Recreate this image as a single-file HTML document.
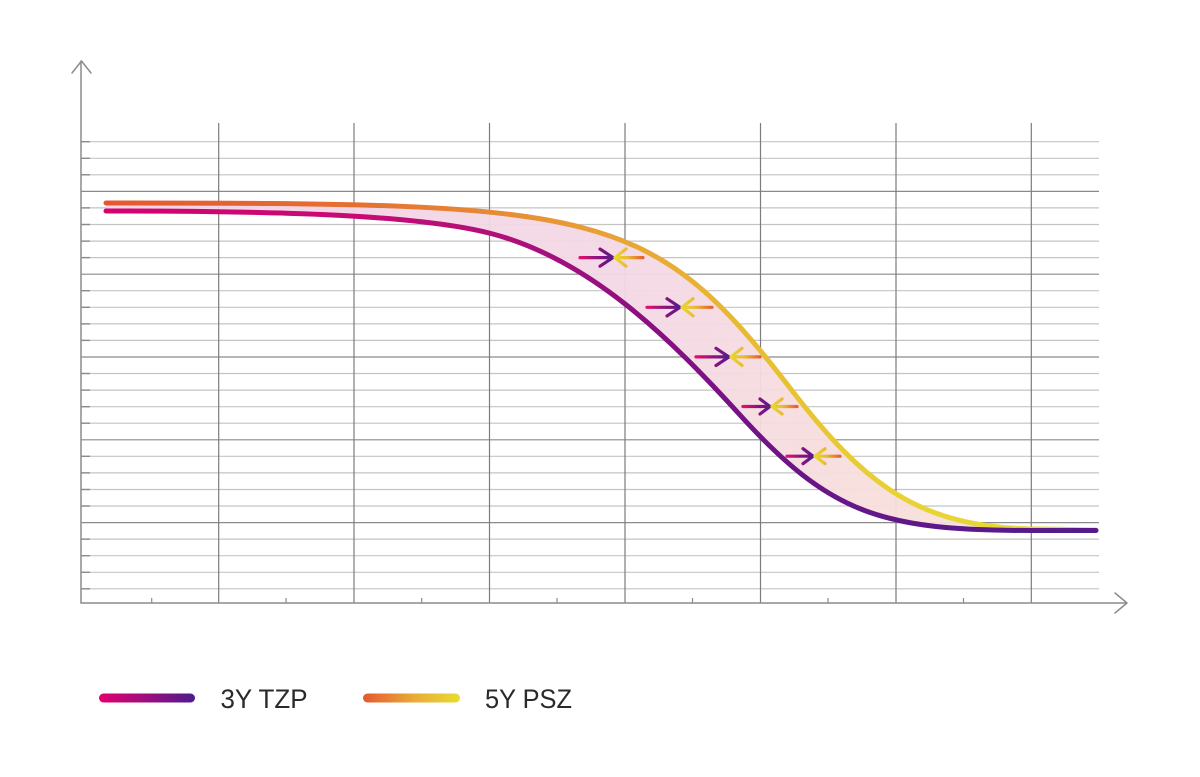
<!DOCTYPE html>
<html>
<head>
<meta charset="utf-8">
<style>
html,body{margin:0;padding:0;background:#fff;}
svg{display:block;}
</style>
</head>
<body>
<svg width="1200" height="777" viewBox="0 0 1200 777" xmlns="http://www.w3.org/2000/svg">
<defs>
  <linearGradient id="gTop" gradientUnits="userSpaceOnUse" x1="106" y1="0" x2="1096" y2="0">
    <stop offset="0" stop-color="#e4582f"/>
    <stop offset="0.25" stop-color="#e56f32"/>
    <stop offset="0.4" stop-color="#e78c36"/>
    <stop offset="0.52" stop-color="#e8a436"/>
    <stop offset="0.66" stop-color="#e8bd32"/>
    <stop offset="0.8" stop-color="#e8d234"/>
    <stop offset="0.92" stop-color="#e6d838"/>
    <stop offset="1" stop-color="#e6d838"/>
  </linearGradient>
  <linearGradient id="gBot" gradientUnits="userSpaceOnUse" x1="106" y1="0" x2="1096" y2="0">
    <stop offset="0" stop-color="#d6006f"/>
    <stop offset="0.25" stop-color="#c80a75"/>
    <stop offset="0.4" stop-color="#b0107a"/>
    <stop offset="0.53" stop-color="#8e0f80"/>
    <stop offset="0.66" stop-color="#701386"/>
    <stop offset="0.8" stop-color="#601889"/>
    <stop offset="1" stop-color="#561a8c"/>
  </linearGradient>
  <linearGradient id="gFill" gradientUnits="userSpaceOnUse" x1="350" y1="0" x2="1040" y2="0">
    <stop offset="0" stop-color="#f3d5e6"/>
    <stop offset="0.45" stop-color="#f4d9e4"/>
    <stop offset="1" stop-color="#fae3d6"/>
  </linearGradient>
  <linearGradient id="gPur" x1="0" y1="0" x2="1" y2="0">
    <stop offset="0" stop-color="#e0106e"/>
    <stop offset="0.55" stop-color="#8a127f"/>
    <stop offset="1" stop-color="#5a1a8a"/>
  </linearGradient>
  <linearGradient id="gYel" x1="0" y1="0" x2="1" y2="0">
    <stop offset="0" stop-color="#e8d830"/>
    <stop offset="0.45" stop-color="#e8b834"/>
    <stop offset="1" stop-color="#e5602f"/>
  </linearGradient>
  <linearGradient id="gLeg1" gradientUnits="userSpaceOnUse" x1="99" y1="0" x2="195" y2="0">
    <stop offset="0" stop-color="#e2006e"/>
    <stop offset="0.5" stop-color="#9a107e"/>
    <stop offset="1" stop-color="#4e1a8c"/>
  </linearGradient>
  <linearGradient id="gLeg2" gradientUnits="userSpaceOnUse" x1="363" y1="0" x2="460" y2="0">
    <stop offset="0" stop-color="#e4582f"/>
    <stop offset="0.5" stop-color="#e8a838"/>
    <stop offset="1" stop-color="#e8dc30"/>
  </linearGradient>
</defs>

<!-- horizontal grid -->
<g stroke="#c4c4c4" stroke-width="1.2" fill="none">
  <line x1="81" y1="141.7" x2="1099" y2="141.7"/>
  <line x1="81" y1="158.3" x2="1099" y2="158.3"/>
  <line x1="81" y1="174.8" x2="1099" y2="174.8"/>
  <line x1="81" y1="207.9" x2="1099" y2="207.9"/>
  <line x1="81" y1="224.5" x2="1099" y2="224.5"/>
  <line x1="81" y1="241.1" x2="1099" y2="241.1"/>
  <line x1="81" y1="257.6" x2="1099" y2="257.6"/>
  <line x1="81" y1="290.7" x2="1099" y2="290.7"/>
  <line x1="81" y1="307.3" x2="1099" y2="307.3"/>
  <line x1="81" y1="323.9" x2="1099" y2="323.9"/>
  <line x1="81" y1="340.4" x2="1099" y2="340.4"/>
  <line x1="81" y1="373.5" x2="1099" y2="373.5"/>
  <line x1="81" y1="390.1" x2="1099" y2="390.1"/>
  <line x1="81" y1="406.7" x2="1099" y2="406.7"/>
  <line x1="81" y1="423.2" x2="1099" y2="423.2"/>
  <line x1="81" y1="456.3" x2="1099" y2="456.3"/>
  <line x1="81" y1="472.9" x2="1099" y2="472.9"/>
  <line x1="81" y1="489.5" x2="1099" y2="489.5"/>
  <line x1="81" y1="506.0" x2="1099" y2="506.0"/>
  <line x1="81" y1="539.1" x2="1099" y2="539.1"/>
  <line x1="81" y1="555.7" x2="1099" y2="555.7"/>
  <line x1="81" y1="572.3" x2="1099" y2="572.3"/>
  <line x1="81" y1="588.8" x2="1099" y2="588.8"/>
</g>
<g stroke="#8a8a8a" stroke-width="1.2" fill="none">
  <line x1="81" y1="191.4" x2="1099" y2="191.4"/>
  <line x1="81" y1="274.2" x2="1099" y2="274.2"/>
  <line x1="81" y1="357.0" x2="1099" y2="357.0"/>
  <line x1="81" y1="439.8" x2="1099" y2="439.8"/>
  <line x1="81" y1="522.6" x2="1099" y2="522.6"/>
</g>
<!-- y-axis ticks -->
<g stroke="#8a8a8a" stroke-width="1.4">
  <line x1="81" y1="141.7" x2="90" y2="141.7"/>
  <line x1="81" y1="158.3" x2="90" y2="158.3"/>
  <line x1="81" y1="174.8" x2="90" y2="174.8"/>
  <line x1="81" y1="207.9" x2="90" y2="207.9"/>
  <line x1="81" y1="224.5" x2="90" y2="224.5"/>
  <line x1="81" y1="241.1" x2="90" y2="241.1"/>
  <line x1="81" y1="257.6" x2="90" y2="257.6"/>
  <line x1="81" y1="290.7" x2="90" y2="290.7"/>
  <line x1="81" y1="307.3" x2="90" y2="307.3"/>
  <line x1="81" y1="323.9" x2="90" y2="323.9"/>
  <line x1="81" y1="340.4" x2="90" y2="340.4"/>
  <line x1="81" y1="373.5" x2="90" y2="373.5"/>
  <line x1="81" y1="390.1" x2="90" y2="390.1"/>
  <line x1="81" y1="406.7" x2="90" y2="406.7"/>
  <line x1="81" y1="423.2" x2="90" y2="423.2"/>
  <line x1="81" y1="456.3" x2="90" y2="456.3"/>
  <line x1="81" y1="472.9" x2="90" y2="472.9"/>
  <line x1="81" y1="489.5" x2="90" y2="489.5"/>
  <line x1="81" y1="506.0" x2="90" y2="506.0"/>
  <line x1="81" y1="539.1" x2="90" y2="539.1"/>
  <line x1="81" y1="555.7" x2="90" y2="555.7"/>
  <line x1="81" y1="572.3" x2="90" y2="572.3"/>
  <line x1="81" y1="588.8" x2="90" y2="588.8"/>
</g>
<!-- vertical grid -->
<g stroke="#7c7c7c" stroke-width="1.2">
  <line x1="218.7" y1="123" x2="218.7" y2="603"/>
  <line x1="354" y1="123" x2="354" y2="603"/>
  <line x1="489.5" y1="123" x2="489.5" y2="603"/>
  <line x1="625" y1="123" x2="625" y2="603"/>
  <line x1="760.5" y1="123" x2="760.5" y2="603"/>
  <line x1="896" y1="123" x2="896" y2="603"/>
  <line x1="1031.3" y1="123" x2="1031.3" y2="603"/>
</g>
<!-- x minor ticks -->
<g stroke="#8a8a8a" stroke-width="1.2">
  <line x1="151.7" y1="598" x2="151.7" y2="603"/>
  <line x1="286" y1="598" x2="286" y2="603"/>
  <line x1="421.7" y1="598" x2="421.7" y2="603"/>
  <line x1="557" y1="598" x2="557" y2="603"/>
  <line x1="692.5" y1="598" x2="692.5" y2="603"/>
  <line x1="828" y1="598" x2="828" y2="603"/>
  <line x1="963.5" y1="598" x2="963.5" y2="603"/>
</g>

<!-- fill between curves -->
<path fill="url(#gFill)" opacity="0.95" d="M106,203 C600,203 650,206 790,388 C865,485.5 920,529 1040,529 C1060,529 1080,530 1096,530 L1096,530.5 L1031,530.5 C881,530.5 830,514 740,415 C670,338 589,258 489,233 C409,213 250,211 106,211 Z"/>

<!-- top curve 5Y PSZ -->
<path fill="none" stroke="url(#gTop)" stroke-width="5" stroke-linecap="round" d="M106,203 C600,203 650,206 790,388 C865,485.5 920,529 1040,529 C1060,529 1080,530 1096,530"/>

<!-- bottom curve 3Y TZP -->
<path fill="none" stroke="url(#gBot)" stroke-width="5" stroke-linecap="round" d="M106,211 C250,211 409,213 489,233 C589,258 670,338 740,415 C830,514 881,530.5 1031,530.5 L1096,530.5"/>

<!-- arrows -->
<g fill="none" stroke-width="3.2" stroke-linecap="round" stroke-linejoin="round">
  <path stroke="url(#gPur)" d="M580,257.6 L613,257.6 M600,249 L613,257.6 L600,266.2"/>
  <path stroke="url(#gYel)" d="M615,257.6 L643,257.6 M626,249 L615,257.6 L626,266.2"/>

  <path stroke="url(#gPur)" d="M647,307.3 L680,307.3 M667,298.7 L680,307.3 L667,315.9"/>
  <path stroke="url(#gYel)" d="M682,307.3 L712,307.3 M693,298.7 L682,307.3 L693,315.9"/>

  <path stroke="url(#gPur)" d="M696,356.9 L729,356.9 M716,348.3 L729,356.9 L716,365.5"/>
  <path stroke="url(#gYel)" d="M731,356.9 L760,356.9 M742,348.3 L731,356.9 L742,365.5"/>

  <path stroke="url(#gPur)" d="M743,406.5 L770,406.5 M760,399 L770,406.5 L760,414"/>
  <path stroke="url(#gYel)" d="M772,406.5 L797,406.5 M782,399 L772,406.5 L782,414"/>

  <path stroke="url(#gPur)" d="M787,456.2 L813,456.2 M803,448.7 L813,456.2 L803,463.7"/>
  <path stroke="url(#gYel)" d="M815,456.2 L840,456.2 M825,448.7 L815,456.2 L825,463.7"/>
</g>

<!-- axes -->
<g stroke="#8c8c8c" stroke-width="1.5" fill="none" stroke-linecap="round" stroke-linejoin="round">
  <line x1="81" y1="603" x2="81" y2="61"/>
  <polyline points="72,73 81.5,61 91,73"/>
  <line x1="81" y1="603" x2="1126" y2="603"/>
  <polyline points="1115,593 1127,603 1115,613"/>
</g>

<!-- legend -->
<line x1="103.5" y1="698" x2="190.5" y2="698" stroke="url(#gLeg1)" stroke-width="9" stroke-linecap="round"/>
<text x="220.5" y="708" font-family="Liberation Sans, sans-serif" font-size="27" fill="#2a2a2a" textLength="87" lengthAdjust="spacingAndGlyphs">3Y TZP</text>
<line x1="367.5" y1="698" x2="455.5" y2="698" stroke="url(#gLeg2)" stroke-width="9" stroke-linecap="round"/>
<text x="485" y="708" font-family="Liberation Sans, sans-serif" font-size="27" fill="#2a2a2a" textLength="87" lengthAdjust="spacingAndGlyphs">5Y PSZ</text>
</svg>
</body>
</html>
